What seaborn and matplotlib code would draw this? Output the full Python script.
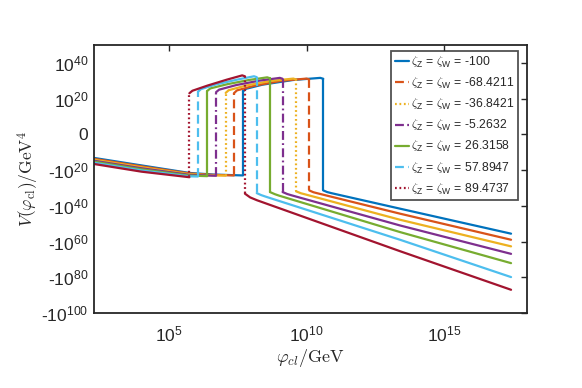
import numpy as np
import pandas as pd
import matplotlib
matplotlib.use('Agg')
import matplotlib.pyplot as plt
import seaborn as sns
from matplotlib.lines import Line2D

# zeta_Z = zeta_W values, one curve each
zeta_labels = ['-100', '-68.4211', '-36.8421', '-5.2632', '26.3158', '57.8947', '89.4737']

# curves: log10(phi/GeV) and sign(V)*log10|V/GeV^4|
low_logphi = [[2.27, 4.0, 5.74, 6.6, 7.69],
              [2.27, 4.0, 5.74, 6.6, 7.36],
              [2.27, 4.0, 5.74, 6.5, 7.06],
              [2.27, 4.0, 5.74, 6.71],
              [2.27, 4.0, 5.74, 6.39],
              [2.27, 4.0, 5.74, 6.05],
              [2.27, 4.0, 5.74]]
low_logV = [[-13.2, -17.4, -21.6, -22.5, -23.0],
            [-13.7, -17.9, -21.9, -22.7, -23.0],
            [-14.2, -18.4, -22.3, -22.9, -23.1],
            [-14.8, -19.0, -22.7, -23.2],
            [-15.3, -19.6, -23.1, -23.4],
            [-15.9, -20.2, -23.5, -23.6],
            [-16.6, -20.9, -24.0]]

up_logphi = [[7.69, 7.8, 8.4, 9.5, 10.5, 10.61],
             [7.36, 7.47, 8.1, 9.1, 10.0, 10.1],
             [7.06, 7.17, 7.8, 8.7, 9.52, 9.62],
             [6.71, 6.82, 7.45, 8.3, 9.03, 9.13],
             [6.39, 6.5, 7.1, 7.9, 8.57, 8.67],
             [6.05, 6.16, 6.7, 7.5, 8.09, 8.19],
             [5.74, 5.85, 6.4, 7.1, 7.66, 7.76]]
up_logV = [[24.0, 25.5, 27.8, 30.4, 31.6, 31.1],
           [23.0, 24.6, 27.2, 30.0, 31.2, 30.7],
           [23.2, 24.7, 27.3, 29.9, 31.2, 30.7],
           [23.6, 25.0, 27.6, 30.1, 31.6, 31.1],
           [24.3, 25.7, 28.0, 30.4, 31.9, 31.4],
           [23.8, 25.3, 27.9, 30.7, 32.5, 32.0],
           [23.0, 24.4, 27.3, 30.6, 33.0, 32.5]]

tail_logphi = [[10.61, 10.75, 10.9, 13.4, 17.44],
               [10.1, 10.25, 10.4, 13.4, 17.44],
               [9.62, 9.8, 9.95, 13.4, 17.44],
               [9.13, 9.3, 9.45, 13.4, 17.44],
               [8.67, 8.85, 9.0, 13.4, 17.44],
               [8.19, 8.35, 8.5, 13.4, 17.44],
               [7.76, 7.95, 8.2, 13.4, 17.44]]
tail_logV = [[-31.4, -32.3, -32.9, -41.6, -55.6],
             [-31.4, -32.4, -33.0, -44.4, -59.0],
             [-31.9, -33.0, -33.6, -47.8, -62.7],
             [-32.3, -33.4, -34.1, -51.0, -66.9],
             [-32.3, -33.5, -34.3, -54.7, -72.1],
             [-32.9, -34.0, -34.8, -59.0, -79.9],
             [-33.2, -35.3, -36.9, -65.4, -87.0]]

x_ticks = [1e5, 1e10, 1e15]
y_ticks = [-100, -80, -60, -40, -20, 0, 20, 40]

colors = ['#0072BD', '#D95319', '#EDB120', '#7E2F8E', '#77AC30', '#4DBEEE', '#A2142F']
dash_list = ['', (4, 2), (0.8, 1.2), (4, 1.5, 0.8, 1.5), '', (4, 2), (0.8, 1.2)]

labels = [r'$\zeta_{\mathdefault{Z}}$ = $\zeta_{\mathdefault{W}}$ = ' + z for z in zeta_labels]
palette = dict(zip(labels, colors))
dashes = dict(zip(labels, dash_list))

curve_rows = []
jump_rows = []
for i, lab in enumerate(labels):
    branches = [(low_logphi[i], low_logV[i]),
                (up_logphi[i], up_logV[i]),
                (tail_logphi[i], tail_logV[i])]
    for b, (xs, ys) in enumerate(branches):
        for x, y in zip(xs, ys):
            curve_rows.append({'label': lab, 'part': f'{i}-{b}', 'phi': 10 ** x, 'V': y})
    for b in range(2):
        xa, ya = branches[b][0][-1], branches[b][1][-1]
        xb, yb = branches[b + 1][0][0], branches[b + 1][1][0]
        jump_rows.append({'label': lab, 'part': f'{i}-j{b}', 'phi': 10 ** xa, 'V': ya})
        jump_rows.append({'label': lab, 'part': f'{i}-j{b}', 'phi': 10 ** xb, 'V': yb})

curves = pd.DataFrame(curve_rows)
jumps = pd.DataFrame(jump_rows)

sns.set_theme(style='white')
plt.rcParams['font.family'] = ['Liberation Sans', 'DejaVu Sans']
plt.rcParams['mathtext.fontset'] = 'cm'
ink = '#262626'

fig = plt.figure(figsize=(5.82, 3.88), dpi=100)
ax = fig.add_axes([0.1615, 0.1933, 0.744, 0.6907])

sns.lineplot(data=curves, x='phi', y='V', hue='label', units='part',
             estimator=None, sort=False, palette=palette, linewidth=1.6,
             legend=False, ax=ax)
sns.lineplot(data=jumps, x='phi', y='V', hue='label', style='label', units='part',
             estimator=None, sort=False, palette=palette, dashes=dashes,
             linewidth=1.6, legend=False, ax=ax)

ax.set_xscale('log')
ax.set_xlim(10 ** 2.27, 10 ** 18.02)
ax.set_ylim(-100, 50)
ax.set_xticks(x_ticks)
ax.set_xticklabels([r'$\mathdefault{10^{%d}}$' % int(round(np.log10(t))) for t in x_ticks])
ax.xaxis.set_minor_locator(matplotlib.ticker.NullLocator())
ax.set_yticks(y_ticks)
ylabs = []
for t in y_ticks:
    if t == 0:
        ylabs.append('0')
    elif t > 0:
        ylabs.append(r'$\mathdefault{10^{%d}}$' % t)
    else:
        ylabs.append(r'-$\mathdefault{10^{%d}}$' % -t)
ax.set_yticklabels(ylabs)

ax.tick_params(axis='both', direction='in', length=4, width=1, colors=ink,
               labelsize=12.5, top=True, right=True)
ax.tick_params(axis='x', pad=8)
ax.tick_params(axis='y', pad=4)
for s in ax.spines.values():
    s.set_color(ink)
    s.set_linewidth(1.3)

ax.set_xlabel(r'$\varphi_{cl}/\mathrm{GeV}$', fontsize=13, color=ink, labelpad=2)
ax.set_ylabel(r'$V(\varphi_{\rm cl})/\mathrm{GeV}^4$', fontsize=12.5, color=ink, labelpad=0)

handles = [Line2D([], [], color=c, linewidth=1.6,
                  linestyle='-' if d == '' else (0, d)) for c, d in zip(colors, dash_list)]
leg = ax.legend(handles, labels, loc='upper right', bbox_to_anchor=(0.979, 0.978),
                borderaxespad=0, fontsize=8.8, handlelength=1.2, handletextpad=0.15,
                labelspacing=0.5, borderpad=0.3, frameon=True, fancybox=False)
leg.get_frame().set_edgecolor(ink)
leg.get_frame().set_linewidth(1.3)
for t in leg.get_texts():
    t.set_color(ink)

fig.savefig('out.png', dpi=100, facecolor='white')
